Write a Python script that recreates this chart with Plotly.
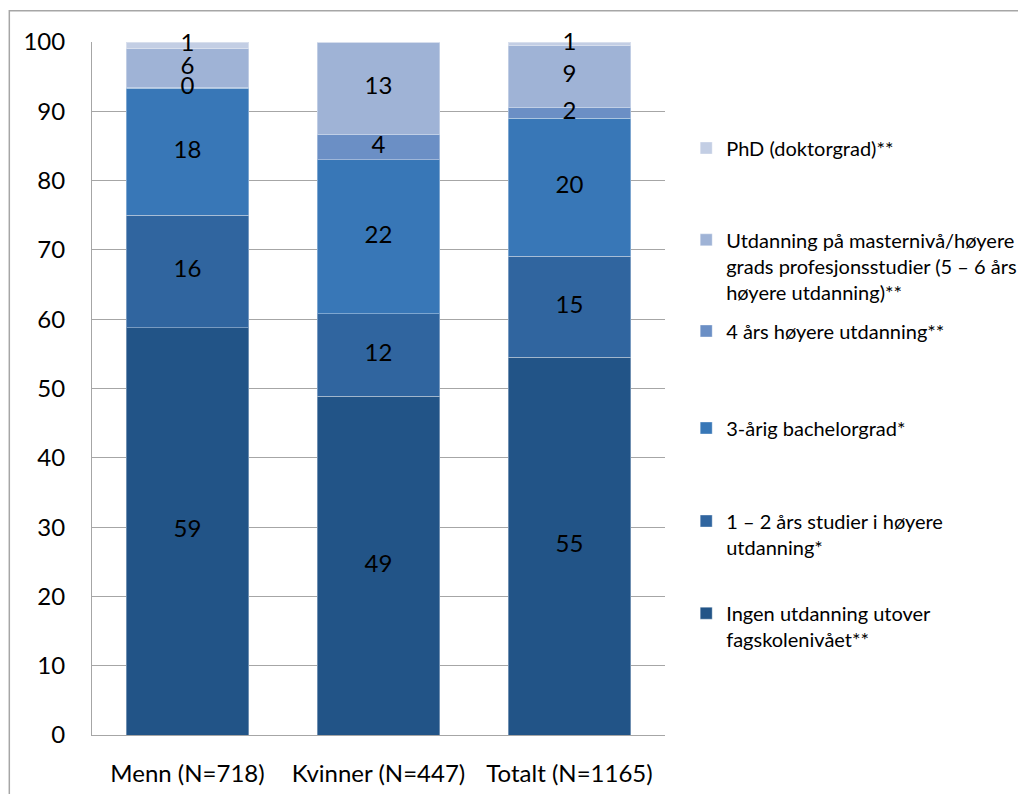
import plotly.graph_objects as go

# ---------- Data ----------
groups = ["Menn (N=718)", "Kvinner (N=447)", "Totalt (N=1165)"]

series_names = [
    "Ingen utdanning utover<br>fagskolenivået**",
    "1 – 2 års studier i høyere<br>utdanning*",
    "3-årig bachelorgrad*",
    "4 års høyere utdanning**",
    "Utdanning på masternivå/høyere<br>grads profesjonsstudier (5 – 6 års<br>høyere utdanning)**",
    "PhD (doktorgrad)**",
]

ingen = [58.8, 48.9, 54.5]
studier_1_2 = [16.2, 11.9, 14.6]
bachelor = [18.3, 22.2, 19.9]
hoyere_4 = [0.2, 3.7, 1.6]
master = [5.5, 13.3, 8.9]
phd = [1.0, 0.0, 0.5]

ingen_lbl = ["59", "49", "55"]
studier_1_2_lbl = ["16", "12", "15"]
bachelor_lbl = ["18", "22", "20"]
hoyere_4_lbl = ["0", "4", "2"]
master_lbl = ["6", "13", "9"]
phd_lbl = ["1", "", "1"]

values = [ingen, studier_1_2, bachelor, hoyere_4, master, phd]
labels = [ingen_lbl, studier_1_2_lbl, bachelor_lbl, hoyere_4_lbl, master_lbl, phd_lbl]
colors = ["#225487", "#30659f", "#3877b7", "#6b8fc5", "#9fb3d6", "#c3cee4"]

# one legend per series so entries can sit where the original puts them
legend_ids = ["legend6", "legend5", "legend4", "legend3", "legend2", "legend"]
legend_y = [0.157, 0.290, 0.443, 0.583, 0.677, 0.847]

FONT = "Lato, 'Liberation Sans', sans-serif"

fig = go.Figure()
for name, vals, col, lid in zip(series_names, values, colors, legend_ids):
    fig.add_trace(go.Bar(
        name=name,
        x=groups,
        y=vals,
        marker=dict(color=col, line=dict(width=1, color="rgba(255,255,255,0.35)")),
        legend=lid,
    ))

# data labels on top of all bars, centred in each segment
base = [0.0] * len(groups)
for vals, lbl in zip(values, labels):
    mids = [b + v / 2 for b, v in zip(base, vals)]
    fig.add_trace(go.Scatter(
        x=groups,
        y=mids,
        text=lbl,
        mode="text",
        textposition="middle center",
        textfont=dict(color="black", size=24, family=FONT),
        cliponaxis=False,
        showlegend=False,
        hoverinfo="skip",
    ))
    base = [b + v for b, v in zip(base, vals)]

fig.update_layout(
    barmode="stack",
    bargap=0.358,
    width=1026,
    height=794,
    margin=dict(l=84, r=367, t=34, b=67),
    plot_bgcolor="white",
    paper_bgcolor="white",
    font=dict(family=FONT, size=24, color="black"),
    showlegend=True,
)

for lid, ly in zip(legend_ids, legend_y):
    fig.update_layout({lid: dict(
        x=1.037, y=ly, xanchor="left", yanchor="middle",
        valign="top",
        font=dict(size=20, family=FONT, color="black"),
        itemwidth=30,
        bgcolor="rgba(0,0,0,0)",
    )})

fig.update_yaxes(
    range=[0, 100],
    dtick=10,
    showgrid=True,
    gridcolor="#a6a6a6",
    gridwidth=1,
    showline=True,
    linecolor="#a6a6a6",
    ticks="",
    ticklabelstandoff=21,
    tickfont=dict(size=24),
    zeroline=False,
    automargin=False,
)
fig.update_xaxes(
    showline=True,
    linecolor="#a6a6a6",
    ticks="",
    ticklabelstandoff=17,
    tickfont=dict(size=24),
    automargin=False,
)

# outer chart border (left and top edges visible)
fig.add_shape(
    type="rect", xref="paper", yref="paper",
    x0=-0.1443, x1=1.8, y0=-0.3, y1=1.045,
    line=dict(color="#a6a6a6", width=1.5),
    fillcolor="rgba(0,0,0,0)",
    layer="below",
)

fig.write_html("out.html")
